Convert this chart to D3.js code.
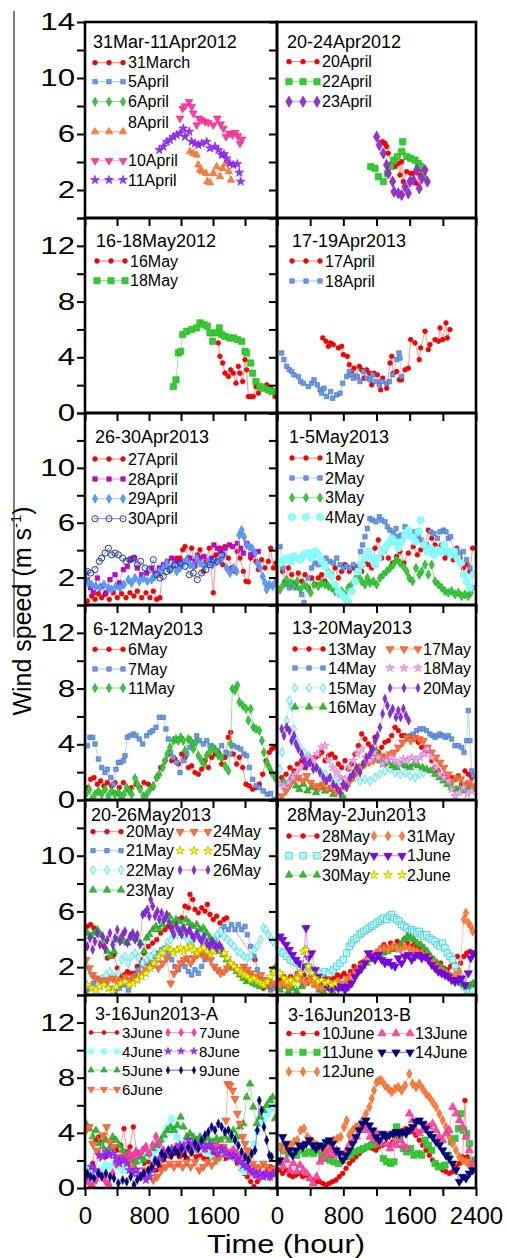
<!DOCTYPE html>
<html>
<head>
<meta charset="utf-8">
<script src="https://cdn.jsdelivr.net/npm/d3@7"></script>
<style>
body { margin: 0; background: #fff; }
svg text { font-family: "Liberation Sans", Arial, sans-serif; fill: #000; }
</style>
</head>
<body>
<svg id="chart" width="507" height="1258"></svg>
<script>
// ---- ticks ----
var xTicks = [0, 400, 800, 1200, 1600, 2000, 2400];
var yTicks = [0, 2, 4, 6, 8, 10, 12, 14];
var xLabelsLeft = [0, 800, 1600];
var xLabelsRight = [0, 800, 1600, 2400];
var yLabelsByRow = [[14, 10, 6, 2], [12, 8, 4, 0], [10, 6, 2], [12, 8, 4, 0], [10, 6, 2], [12, 8, 4, 0]];

// ---- data: [time (hhmm), wind speed] ----
// 31Mar-11Apr2012
var p1_31March = [];
var p1_5April = [];
var p1_6April = [];
var p1_8April = [[1312,4.74],[1354,4.62],[1396,4.5],[1417,3.79],[1437,3.43],[1467,3.31],[1512,3.19],[1529,2.6],[1562,2.52],[1604,3.19],[1646,3.67],[1687,2.95],[1721,3.55],[1758,3.9],[1796,3.31],[1825,2.71]];
var p1_10April = [[1187,7.12],[1221,7.83],[1250,8.0],[1300,8.31],[1333,7.95],[1354,7.48],[1396,6.64],[1425,7.12],[1458,7.0],[1500,6.88],[1542,6.81],[1604,6.64],[1654,7.12],[1696,6.71],[1729,6.4],[1762,5.81],[1804,6.05],[1842,5.93],[1879,6.1],[1912,5.86],[1937,5.33],[1962,5.62]];
var p1_11April = [[929,4.86],[979,5.1],[1021,5.45],[1062,5.57],[1104,5.81],[1146,5.93],[1187,6.05],[1229,6.4],[1250,5.81],[1304,6.17],[1333,5.45],[1375,5.33],[1417,5.21],[1458,5.33],[1521,5.45],[1562,4.98],[1625,5.1],[1667,4.86],[1708,4.5],[1737,4.57],[1771,4.26],[1812,3.9],[1854,3.79],[1904,3.86],[1929,3.24],[1946,2.6]];
// 20-24Apr2012
var p2_20April = [[1274,5.45],[1302,5.33],[1322,5.1],[1342,4.62],[1383,3.9],[1423,3.67],[1463,3.9],[1483,3.07],[1503,4.02],[1523,2.6],[1564,3.31],[1612,3.19],[1644,3.19],[1684,2.48],[1725,3.07],[1745,3.43]];
var p2_22April = [[1130,3.67],[1182,3.55],[1222,2.95],[1282,2.6],[1331,3.19],[1371,3.67],[1411,4.14],[1451,4.38],[1503,4.74],[1515,5.45],[1564,4.38],[1612,4.26],[1664,4.14],[1704,3.9],[1733,3.67],[1765,2.95]];
var p2_23April = [[1202,5.81],[1234,5.21],[1282,4.62],[1322,3.79],[1342,3.19],[1395,2.6],[1411,1.88],[1463,1.76],[1503,1.64],[1544,2.24],[1584,1.76],[1604,2.6],[1644,2.71],[1684,3.43],[1716,2.12],[1745,2.83],[1785,3.43],[1813,2.6]];
// 16-18May2012
var p3_16May = [[1667,5.03],[1687,4.07],[1721,3.59],[1750,2.86],[1792,2.62],[1821,3.1],[1854,2.86],[1887,2.14],[1917,3.35],[1937,2.86],[1971,2.26],[2000,3.83],[2021,3.1],[2042,1.18],[2071,1.18],[2104,1.18],[2137,1.9],[2167,1.42],[2208,1.78],[2271,2.02],[2321,1.78],[2375,1.18]];
var p3_18May = [[1104,1.9],[1137,2.38],[1167,4.31],[1196,4.43],[1221,5.63],[1271,5.87],[1333,5.99],[1396,6.11],[1437,6.47],[1487,6.35],[1529,6.23],[1562,5.75],[1596,5.15],[1637,5.75],[1679,6.11],[1708,5.63],[1750,5.51],[1804,5.39],[1854,5.39],[1904,5.27],[1958,5.15],[2000,4.43],[2021,4.31],[2071,3.59],[2096,2.86],[2137,2.26],[2187,1.9],[2229,1.78],[2292,1.66],[2333,1.54],[2396,1.54]];
// 17-19Apr2013
var p4_17April = [[551,5.39],[591,5.15],[619,4.79],[647,5.03],[679,4.91],[740,4.67],[780,4.79],[800,4.19],[848,4.07],[872,3.47],[900,2.86],[929,3.22],[961,2.62],[993,3.35],[1021,3.1],[1049,2.5],[1081,3.1],[1114,2.86],[1142,2.02],[1170,2.86],[1210,2.74],[1250,1.66],[1274,2.5],[1323,1.78],[1363,3.59],[1383,4.07],[1403,2.86],[1443,2.98],[1475,2.38],[1503,2.38],[1544,3.1],[1584,3.22],[1612,5.27],[1664,5.03],[1716,3.83],[1733,4.67],[1785,5.87],[1825,4.55],[1845,4.91],[1906,5.27],[1946,5.15],[1966,6.11],[1998,5.27],[2038,6.47],[2054,5.39],[2086,5.99]];
var p4_18April = [[56,4.31],[84,3.83],[117,3.35],[149,3.1],[177,2.98],[205,2.74],[257,2.62],[285,2.26],[318,2.14],[378,1.9],[418,2.14],[446,2.38],[486,2.02],[519,1.66],[539,1.42],[567,1.78],[599,1.18],[647,1.54],[672,1.06],[720,1.3],[760,1.42],[792,2.14],[840,2.62],[872,2.98],[900,2.74],[921,2.5],[969,2.62],[1001,2.26],[1041,2.98],[1081,2.5],[1122,2.38],[1154,2.74],[1194,2.26],[1234,2.02],[1262,2.26],[1323,2.14],[1355,2.26],[1395,2.74],[1443,3.83],[1471,4.31],[1483,3.95],[1503,2.62]];
// 26-30Apr2013
var p5_27April = [[29,0.29],[83,0.65],[125,0.41],[167,0.82],[208,0.53],[250,0.77],[304,0.41],[354,0.89],[404,0.53],[458,0.82],[512,0.53],[562,0.89],[612,0.65],[654,1.01],[708,0.53],[762,0.89],[812,0.53],[854,1.01],[896,0.41],[937,0.53],[971,2.7],[1021,3.06],[1062,2.7],[1104,2.82],[1146,3.42],[1187,3.42],[1221,4.02],[1250,4.26],[1292,3.42],[1333,4.14],[1375,2.82],[1404,3.66],[1437,4.02],[1479,2.45],[1512,3.18],[1554,4.14],[1604,0.89],[1637,3.66],[1687,4.14],[1721,2.94],[1750,4.26],[1792,3.42],[1833,2.7],[1875,2.45],[1904,3.9],[1937,3.42],[1979,2.45],[2012,1.73],[2042,1.68],[2071,3.42],[2104,3.66],[2137,3.18],[2167,2.58],[2208,3.3],[2250,2.7],[2292,3.18],[2321,4.14],[2354,2.7],[2387,3.06]];
var p5_28April = [[29,1.85],[71,1.25],[104,0.89],[154,1.97],[208,1.37],[262,0.89],[312,1.85],[375,2.21],[429,1.61],[479,2.58],[529,2.82],[571,3.3],[612,3.42],[654,2.7],[708,2.21],[771,2.33],[833,2.7],[875,2.33],[929,2.7],[979,2.94],[1029,3.18],[1083,3.42],[1125,3.18],[1187,3.06],[1250,3.18],[1312,3.42],[1375,3.18],[1437,3.42],[1487,3.54],[1542,3.06],[1583,3.42],[1612,4.38],[1654,4.14],[1696,3.9],[1750,4.14],[1804,4.38],[1846,4.26],[1904,4.5],[1946,4.14],[1979,3.78],[2021,4.5],[2071,3.66],[2112,3.78],[2167,3.9]];
var p5_29April = [[12,2.33],[42,1.61],[83,1.49],[137,1.37],[187,1.25],[237,1.49],[292,1.25],[333,1.13],[387,1.37],[437,1.25],[487,1.49],[542,1.85],[583,1.61],[625,1.97],[679,1.73],[729,1.97],[779,1.73],[833,1.85],[875,2.09],[929,2.45],[979,2.7],[1021,3.06],[1062,2.58],[1104,2.94],[1146,2.45],[1187,2.7],[1229,3.06],[1271,3.3],[1312,2.94],[1354,2.82],[1396,3.42],[1437,3.06],[1487,2.82],[1542,3.18],[1596,2.94],[1646,3.18],[1696,3.3],[1737,3.66],[1771,2.7],[1812,2.33],[1854,2.7],[1896,2.45],[1929,5.1],[1958,5.46],[1987,4.98],[2021,4.38],[2054,4.26],[2087,4.14],[2125,3.78],[2154,3.06],[2187,2.7],[2221,2.09],[2250,1.61],[2271,1.13],[2304,1.49],[2346,1.37],[2387,1.73]];
var p5_30April = [[29,2.45],[71,2.33],[125,2.58],[179,3.18],[208,3.42],[250,3.78],[292,4.14],[333,3.66],[375,3.78],[417,3.66],[471,3.42],[512,3.18],[562,3.3],[612,3.42],[654,2.94],[696,3.18],[750,2.7],[804,2.58],[854,3.3],[896,2.21],[937,1.97],[979,2.09],[1021,2.45],[1062,2.58],[1125,2.94],[1187,3.06],[1250,2.82],[1304,2.21],[1354,2.33],[1404,1.85],[1458,2.33],[1512,2.58],[1562,2.94],[1604,3.3],[1654,3.18],[1708,3.66]];
// 1-5May2013
var p6_1May = [[28,3.06],[68,2.45],[96,1.73],[137,2.7],[177,2.21],[217,1.49],[257,2.33],[297,1.73],[338,2.21],[378,1.25],[418,1.97],[458,1.49],[498,1.97],[539,2.21],[579,1.73],[619,2.45],[659,2.21],[700,2.7],[740,1.97],[780,2.45],[820,2.94],[872,2.45],[921,2.7],[981,2.82],[1021,2.45],[1061,3.18],[1101,2.94],[1142,2.7],[1182,4.14],[1222,4.74],[1262,3.42],[1302,4.02],[1343,3.42],[1395,3.06],[1443,3.54],[1483,3.9],[1532,3.06],[1584,3.78],[1644,4.26],[1692,3.66],[1733,4.02],[1785,4.26],[1825,5.46],[1865,4.86],[1906,4.38],[1946,4.14],[1986,4.38],[2026,3.42],[2066,3.66],[2126,3.3],[2167,4.14],[2207,3.42],[2247,2.7],[2295,2.94],[2327,2.45],[2360,4.14]];
var p6_2May = [[36,4.26],[68,2.7],[109,1.49],[149,1.25],[197,1.61],[245,1.25],[297,0.77],[326,0.17],[378,1.97],[418,2.7],[458,3.06],[498,2.94],[551,3.18],[591,3.42],[639,3.18],[679,3.06],[720,3.42],[760,2.94],[800,2.7],[840,2.82],[880,2.7],[921,2.94],[961,2.58],[1009,3.9],[1033,4.38],[1061,4.98],[1089,5.58],[1121,6.31],[1154,6.19],[1194,6.07],[1234,6.43],[1262,6.19],[1302,6.07],[1331,5.7],[1363,5.46],[1403,5.22],[1435,5.58],[1463,4.98],[1503,5.1],[1544,5.7],[1584,5.1],[1624,4.98],[1664,5.34],[1704,4.98],[1745,4.74],[1773,4.38],[1805,4.38],[1853,5.34],[1893,5.22],[1934,4.86],[1966,5.34],[2006,5.46],[2038,5.34],[2066,4.86],[2094,4.98],[2126,3.9],[2167,4.02],[2207,3.78],[2247,3.9],[2287,3.3],[2327,2.7],[2368,1.25]];
var p6_3May = [[36,1.13],[76,1.49],[117,1.85],[165,1.61],[205,1.37],[245,1.73],[285,1.13],[326,1.49],[366,1.25],[406,0.89],[446,1.49],[498,1.37],[539,1.61],[579,1.49],[619,1.37],[659,1.25],[700,1.01],[740,0.89],[780,1.01],[820,0.77],[860,1.25],[900,1.49],[941,1.85],[981,2.09],[1021,1.73],[1061,1.49],[1089,1.97],[1121,1.61],[1162,1.73],[1202,1.49],[1242,1.97],[1282,2.21],[1323,2.45],[1363,2.7],[1403,2.94],[1443,3.3],[1483,3.06],[1524,2.82],[1564,2.45],[1596,1.97],[1636,1.73],[1676,2.7],[1716,2.21],[1745,2.45],[1785,2.94],[1825,2.21],[1865,2.94],[1906,1.73],[1946,1.49],[1986,1.25],[2026,1.01],[2066,0.89],[2106,1.01],[2147,0.77],[2187,0.89],[2227,0.65],[2267,0.77],[2307,0.65],[2336,0.89]];
var p6_4May = [[36,3.06],[84,3.3],[125,3.42],[165,3.18],[205,3.54],[245,3.42],[285,3.3],[326,3.66],[378,3.78],[418,3.42],[458,3.9],[498,3.66],[539,3.18],[579,2.82],[619,2.33],[659,2.09],[700,1.49],[740,1.01],[780,0.77],[820,0.53],[860,0.17],[900,1.01],[941,1.73],[981,2.45],[1021,2.94],[1061,3.42],[1101,3.9],[1142,3.42],[1182,2.94],[1222,3.42],[1262,3.9],[1302,4.14],[1343,4.5],[1383,4.86],[1423,4.62],[1463,4.14],[1503,4.62],[1544,5.1],[1584,5.46],[1624,4.98],[1664,4.62],[1704,5.34],[1733,6.19],[1773,4.38],[1813,3.9],[1853,4.14],[1893,3.66],[1934,4.02],[1974,3.9],[2014,4.38],[2054,3.9],[2094,3.66],[2135,3.9],[2175,3.42],[2215,3.06],[2255,2.21],[2287,1.73],[2327,1.25],[2368,2.21]];
// 6-12May2013
var p7_6May = [[29,0.89],[71,1.49],[112,1.61],[154,1.13],[196,1.37],[237,1.01],[279,1.25],[333,1.01],[375,1.25],[429,0.89],[479,1.25],[529,0.77],[583,0.89],[637,1.13],[687,0.89],[737,1.25],[792,1.13],[846,0.89],[896,1.61],[946,2.33],[1000,2.82],[1042,3.3],[1083,2.82],[1125,2.94],[1167,2.58],[1208,3.3],[1250,3.06],[1292,2.33],[1333,2.45],[1375,1.97],[1417,1.85],[1458,2.21],[1500,2.82],[1542,2.33],[1583,3.06],[1625,3.3],[1667,3.42],[1708,2.58],[1750,3.06],[1792,4.5],[1821,4.86],[1854,3.3],[1896,2.58],[1929,3.06],[1971,2.33],[2012,1.13],[2054,1.01],[2096,0.77],[2137,0.89],[2179,1.13],[2221,1.85],[2262,2.82],[2304,3.42],[2333,3.66],[2362,3.78]];
var p7_7May = [[29,3.9],[62,4.5],[96,4.5],[125,4.02],[167,2.94],[208,2.33],[250,1.97],[279,2.21],[321,1.61],[354,1.13],[387,2.21],[417,2.7],[446,2.7],[479,2.82],[500,3.18],[529,4.5],[562,4.62],[604,4.74],[637,4.62],[679,4.38],[721,4.02],[771,4.62],[812,4.86],[846,4.98],[887,5.22],[929,5.94],[979,5.94],[1012,5.1],[1042,4.38],[1071,3.42],[1104,3.06],[1146,2.7],[1187,1.97],[1229,2.82],[1271,3.3],[1312,3.78],[1346,4.14],[1396,4.62],[1429,4.26],[1479,4.02],[1521,4.26],[1562,3.9],[1604,3.78],[1654,3.54],[1708,3.9],[1762,3.42],[1812,3.3],[1854,3.9],[1904,3.78],[1946,3.66],[1987,3.3],[2021,3.18],[2054,2.33],[2096,1.49],[2137,1.01],[2179,0.89],[2229,0.65],[2279,0.41],[2321,0.46],[2362,0.05]];
var p7_11May = [[12,0.41],[54,0.77],[83,0.05],[125,0.41],[167,0.65],[208,0.41],[250,0.77],[292,0.29],[333,0.65],[375,0.41],[417,0.53],[446,0.29],[487,0.41],[521,0.89],[554,0.65],[583,0.41],[625,1.56],[654,1.13],[687,0.77],[729,0.29],[771,0.41],[812,0.77],[854,1.01],[896,1.61],[929,1.85],[971,2.33],[1000,2.82],[1029,3.3],[1062,3.78],[1104,4.26],[1137,4.38],[1167,4.26],[1196,4.5],[1229,4.26],[1250,3.54],[1292,4.38],[1321,4.26],[1354,3.66],[1387,4.14],[1417,3.18],[1458,2.82],[1487,2.58],[1521,3.18],[1554,3.42],[1596,3.78],[1637,3.54],[1667,3.18],[1708,3.06],[1750,2.45],[1792,2.09],[1821,4.02],[1842,7.99],[1875,7.87],[1904,8.23],[1929,7.03],[1971,6.79],[2012,6.55],[2042,5.7],[2071,6.55],[2104,5.22],[2137,5.1],[2179,4.98],[2212,4.26],[2237,3.42],[2271,2.7],[2304,2.33],[2333,1.97],[2375,1.61]];
// 13-20May2013
var p8_13May = [[56,1.61],[109,1.85],[157,2.33],[205,2.09],[245,2.58],[297,2.82],[338,2.33],[378,2.94],[418,2.58],[458,3.06],[498,3.18],[539,3.42],[579,2.82],[619,3.18],[659,3.3],[700,3.06],[740,2.58],[780,2.33],[820,2.82],[860,2.21],[900,2.58],[941,3.3],[981,3.9],[1021,4.74],[1061,4.38],[1101,4.02],[1142,3.78],[1182,4.5],[1222,3.42],[1262,3.78],[1302,4.14],[1343,4.26],[1383,4.62],[1423,5.22],[1463,4.98],[1503,4.62],[1544,4.62],[1584,4.5],[1624,4.62],[1664,4.38],[1704,4.14],[1745,3.78],[1785,3.42],[1825,3.54],[1865,2.82],[1906,2.33],[1946,2.09],[1986,1.73],[2026,1.61],[2066,1.37],[2106,1.61],[2147,1.49],[2187,1.73],[2227,1.13],[2267,2.09],[2307,1.85],[2348,1.61]];
var p8_14May = [[1612,4.62],[1644,4.74],[1684,4.98],[1725,5.1],[1765,5.1],[1805,4.98],[1845,4.74],[1877,4.62],[1906,4.5],[1934,4.62],[1966,4.74],[1998,4.62],[2030,4.5],[2066,4.62],[2106,4.38],[2147,3.9],[2187,3.9],[2227,3.78],[2255,3.42],[2287,4.26],[2307,6.43],[2327,4.26],[2348,2.09],[2368,1.73]];
var p8_15May = [[36,2.21],[60,3.42],[84,4.98],[117,5.7],[149,7.15],[177,6.67],[205,5.1],[237,4.26],[277,3.78],[326,3.42],[378,3.18],[418,2.94],[470,2.33],[519,2.09],[579,1.85],[639,1.61],[700,1.37],[760,1.37],[820,1.25],[880,1.37],[941,1.61],[1001,1.37],[1061,1.49],[1122,1.37],[1182,1.61],[1242,1.85],[1302,2.09],[1363,2.21],[1423,1.97],[1483,1.85],[1544,1.97],[1604,1.73],[1664,1.61],[1716,1.85],[1765,1.97]];
var p8_16May = [[76,1.37],[125,1.13],[177,1.61],[229,1.01],[269,0.77],[318,1.13],[366,0.65],[418,0.89],[470,0.53],[519,0.89],[579,0.65],[631,0.77],[679,0.41],[740,0.65],[792,0.29],[840,1.13],[888,1.61],[941,2.09],[993,2.33],[1041,2.58],[1089,2.82],[1142,3.3],[1194,3.54],[1242,2.82],[1290,2.58],[1343,2.7],[1395,2.45],[1443,2.33],[1503,2.58],[1556,2.45],[1604,2.33],[1652,2.58],[1704,2.45],[1757,2.33],[1805,2.21],[1853,2.09],[1906,1.85],[1958,1.61],[2006,1.37],[2054,1.13],[2106,0.89],[2159,0.77],[2207,0.89],[2255,0.65],[2307,0.89],[2360,0.77]];
var p8_17May = [[56,0.29],[109,0.65],[157,1.13],[205,1.49],[257,1.61],[310,1.37],[358,1.73],[406,1.25],[458,1.01],[511,0.89],[559,1.13],[607,0.77],[659,0.89],[712,0.53],[760,0.77],[808,1.01],[860,1.25],[913,1.61],[961,1.97],[1009,2.33],[1061,2.58],[1114,2.7],[1162,2.82],[1210,3.06],[1262,3.18],[1315,3.06],[1363,3.3],[1411,3.42],[1463,3.78],[1516,4.14],[1564,4.5],[1612,4.26],[1664,4.5],[1716,4.38],[1765,4.26],[1813,3.78],[1865,3.42],[1917,3.06],[1966,2.7],[2014,2.33],[2066,1.85],[2118,1.37],[2167,1.61],[2215,1.49],[2267,1.13],[2319,1.25],[2368,1.01]];
var p8_18May = [[36,1.13],[84,1.01],[137,1.25],[189,1.61],[237,1.97],[285,2.33],[338,2.82],[390,3.06],[438,2.82],[486,3.3],[539,3.78],[579,3.9],[619,2.82],[671,2.33],[720,1.97],[768,1.61],[820,1.49],[872,2.33],[921,2.82],[969,3.3],[1021,3.66],[1073,3.06],[1122,2.82],[1170,3.42],[1222,3.06],[1274,2.58],[1323,2.82],[1371,3.06],[1423,2.82],[1475,2.58],[1524,2.94],[1572,2.82],[1624,3.06],[1676,2.82],[1725,3.06],[1773,3.3],[1813,3.66],[1865,3.06],[1917,2.33],[1966,1.85],[2014,1.61],[2066,1.37],[2106,0.77],[2147,0.29],[2199,0.53],[2247,0.89],[2295,0.41],[2348,0.65]];
var p8_20May = [[56,5.1],[84,4.62],[117,5.22],[149,4.98],[177,4.26],[205,4.62],[229,4.02],[257,3.66],[297,3.3],[326,2.82],[358,2.45],[398,2.7],[438,2.21],[478,2.33],[519,1.97],[559,1.61],[599,1.37],[639,1.61],[679,1.13],[720,0.89],[760,0.53],[800,1.13],[840,0.89],[880,1.61],[921,1.85],[961,2.33],[1001,1.97],[1041,2.58],[1081,3.06],[1122,3.3],[1154,3.66],[1182,4.26],[1210,4.62],[1242,5.22],[1274,6.19],[1302,7.27],[1331,6.79],[1363,6.19],[1395,6.55],[1435,5.94],[1463,6.43],[1491,5.94],[1524,6.55],[1556,6.07],[1588,5.7]];
// 20-26May2013
var p9_20May = [[29,4.93],[71,5.05],[112,4.81],[154,4.45],[196,4.33],[237,3.49],[279,2.65],[321,2.77],[362,2.89],[404,1.93],[446,1.32],[487,1.44],[529,1.68],[571,1.56],[612,1.56],[654,2.05],[696,2.53],[737,3.01],[792,3.49],[846,3.73],[896,3.97],[946,4.45],[1000,4.69],[1042,4.93],[1083,4.81],[1125,5.17],[1167,5.42],[1208,5.54],[1250,6.38],[1292,6.26],[1312,7.22],[1346,6.86],[1375,6.14],[1417,5.9],[1458,6.26],[1500,6.02],[1529,6.5],[1562,5.78],[1604,5.42],[1646,5.66],[1687,5.17],[1737,5.42],[1771,5.54],[2125,2.53],[2229,0.48]];
var p9_21May = [[12,0.24],[62,0.48],[104,0.84],[154,1.08],[208,0.96],[262,0.84],[312,0.48],[375,0.24],[429,0.48],[487,0.72],[542,0.36],[583,1.08],[625,1.44],[667,1.81],[708,2.17],[750,2.29],[792,2.41],[833,2.05],[875,2.77],[917,3.01],[958,3.25],[1000,3.37],[1042,3.01],[1083,2.53],[1125,2.05],[1167,1.81],[1208,2.29],[1250,2.05],[1292,1.68],[1333,1.44],[1375,1.81],[1417,1.56],[1458,2.05],[1500,2.53],[1542,3.01],[1583,3.49],[1625,3.97],[1667,4.33],[1708,4.69],[1737,4.93],[1792,4.69],[1833,5.05],[1875,4.69],[1917,5.05],[1958,4.69],[2000,4.93],[2029,4.33],[2071,3.49],[2112,2.77],[2154,1.81],[2196,1.32],[2237,1.08],[2279,0.72],[2321,0.36],[2362,0.48]];
var p9_22May = [[29,2.05],[71,1.56],[112,1.32],[154,1.08],[208,1.2],[262,1.44],[312,1.68],[362,1.32],[417,1.56],[458,2.53],[500,2.77],[542,2.29],[583,2.77],[625,3.01],[667,2.65],[721,2.29],[771,2.53],[821,2.77],[862,3.01],[904,2.53],[946,3.01],[987,3.25],[1029,3.73],[1071,3.97],[1112,4.45],[1154,4.33],[1196,4.69],[1237,4.33],[1279,3.97],[1321,3.61],[1362,3.97],[1404,4.45],[1446,4.33],[1487,3.97],[1529,4.21],[1571,3.73],[1612,3.97],[1654,4.33],[1696,4.57],[1737,4.21],[1779,3.97],[1821,3.73],[1862,3.49],[1904,3.13],[1946,3.01],[1987,2.77],[2029,2.65],[2071,2.77],[2112,3.25],[2154,3.49],[2196,3.97],[2229,4.81],[2262,4.69],[2292,4.33],[2321,4.09],[2354,3.85],[2387,3.61]];
var p9_23May = [[29,4.45],[71,4.21],[112,4.45],[154,4.69],[196,4.33],[237,3.85],[279,3.13],[321,2.77],[362,3.13],[404,3.97],[446,4.09],[487,3.85],[529,3.73],[571,4.09],[612,4.21],[654,3.97],[696,3.73],[737,3.13],[771,4.09],[804,4.33],[846,4.69],[887,4.93],[929,4.69],[971,5.05],[1012,5.42],[1054,5.66],[1096,5.17],[1137,5.42],[1179,5.29],[1221,4.81],[1262,5.42],[1304,5.17],[1346,4.93],[1396,5.05],[1437,4.69],[1479,4.81],[1521,4.45],[1562,4.09],[1604,3.85],[1646,3.49],[1687,3.13],[1729,2.89],[1771,2.53],[1812,2.29],[1854,1.93],[1896,1.68],[1937,1.44],[1979,1.2],[2021,0.96],[2062,1.08],[2104,0.84],[2146,0.72],[2187,0.6],[2229,0.84],[2271,0.6],[2312,0.96],[2354,1.81],[2387,2.05]];
var p9_24May = [[12,2.53],[54,1.93],[96,1.44],[137,1.2],[187,1.08],[237,0.96],[292,1.08],[346,1.2],[396,0.96],[446,1.08],[500,1.32],[554,1.08],[604,1.32],[654,1.2],[708,1.56],[762,1.81],[812,2.05],[862,2.29],[917,1.93],[971,2.29],[1021,2.65],[1071,0.84],[1112,1.56],[1154,1.93],[1196,2.29],[1237,2.53],[1279,2.65],[1321,2.29],[1362,2.65],[1404,2.89],[1446,3.01],[1487,2.77],[1529,2.89],[1571,2.53],[1612,2.05],[1654,1.81],[1696,1.56],[1737,1.68],[1779,1.93],[1821,2.17],[1862,2.05],[1904,1.81],[1946,1.56],[1987,2.05],[2029,1.81],[2071,1.56],[2112,1.32],[2154,1.2],[2196,1.44],[2237,1.08],[2279,0.84],[2321,0.72],[2362,0.84]];
var p9_25May = [[29,0.72],[83,0.48],[137,0.36],[187,0.6],[237,0.72],[292,0.48],[346,0.24],[396,0.6],[446,0.84],[500,0.96],[554,0.72],[604,0.84],[654,1.08],[708,1.32],[762,1.56],[812,1.93],[862,2.29],[917,2.77],[971,3.01],[1021,3.37],[1071,3.25],[1112,3.01],[1154,3.25],[1196,3.37],[1237,3.13],[1279,3.37],[1321,3.49],[1362,3.25],[1404,3.01],[1446,3.25],[1487,3.37],[1529,3.13],[1571,2.89],[1612,3.13],[1654,3.37],[1696,3.25],[1737,3.01],[1779,2.65],[1821,2.29],[1862,2.05],[1904,1.81],[1946,1.56],[1987,1.44],[2029,1.32],[2071,1.08],[2112,1.2],[2154,0.96],[2196,0.84],[2237,0.72],[2279,0.96],[2321,1.32],[2362,1.68]];
var p9_26May = [[29,3.49],[62,4.09],[96,3.25],[125,3.85],[154,4.45],[187,3.61],[221,4.21],[250,3.37],[279,3.97],[312,4.45],[346,3.61],[375,4.09],[404,4.69],[437,3.85],[471,4.33],[500,4.57],[529,3.73],[562,4.21],[596,4.45],[625,3.97],[654,4.33],[687,3.61],[721,5.78],[750,5.9],[779,6.14],[804,5.66],[821,6.86],[846,6.38],[875,5.66],[904,6.02],[929,5.42],[958,5.9],[987,5.42],[1021,5.78],[1054,5.17],[1083,4.69],[1112,4.33],[1146,4.93],[1179,4.57],[1208,4.33],[1237,4.81],[1271,4.45],[1304,4.69],[1333,4.33],[1362,4.09],[1396,4.45],[1429,4.09],[1458,3.85],[1487,4.21],[1521,3.73],[1554,3.49],[1583,3.85],[1612,3.61],[1646,3.37],[1679,3.61],[1708,3.37]];
// 28May-2Jun2013
var p10_28May = [[36,1.08],[84,1.32],[125,0.96],[165,1.32],[205,1.08],[245,1.56],[285,1.2],[326,1.44],[366,1.08],[406,1.32],[446,0.96],[486,1.2],[527,0.84],[567,1.08],[607,1.32],[647,1.08],[687,1.2],[728,1.44],[768,1.32],[808,1.56],[848,1.32],[888,1.68],[929,2.05],[969,1.81],[1009,2.29],[1049,2.41],[1089,2.65],[1130,3.01],[1170,2.77],[1210,3.13],[1250,3.37],[1290,3.61],[1331,3.37],[1371,3.73],[1411,3.49],[1451,3.85],[1491,3.61],[1532,3.97],[1572,3.73],[1612,3.49],[1652,3.61],[1692,3.37],[1733,3.25],[1773,3.13],[1813,2.89],[1853,2.53],[1893,2.29],[1934,2.05],[1974,2.29],[2014,1.93],[2054,1.81],[2094,2.05],[2135,2.29],[2175,2.77],[2215,2.29],[2255,2.77],[2287,3.01],[2327,3.13],[2360,3.01]];
var p10_29May = [[36,3.13],[76,3.01],[117,2.77],[157,2.53],[197,2.41],[237,2.29],[277,2.05],[326,1.93],[378,2.05],[430,1.81],[478,1.68],[527,1.56],[579,1.68],[631,1.56],[679,1.81],[720,2.05],[760,2.29],[800,2.53],[840,3.01],[872,3.49],[900,3.73],[929,3.97],[961,4.09],[993,4.33],[1021,4.45],[1049,4.57],[1081,4.69],[1114,4.81],[1142,4.93],[1170,5.05],[1202,5.17],[1234,5.29],[1262,5.42],[1290,5.54],[1323,5.42],[1355,5.66],[1383,5.78],[1411,5.54],[1443,5.42],[1475,5.29],[1503,5.05],[1532,4.93],[1564,4.81],[1596,4.57],[1624,4.69],[1652,4.57],[1684,4.45],[1716,4.57],[1745,4.33],[1773,4.21],[1805,4.33],[1837,4.09],[1869,3.97],[1906,3.85],[1934,3.61],[1966,3.49],[1998,3.73],[2026,3.37],[2054,3.01],[2086,2.77],[2118,2.53],[2147,2.05],[2175,1.68],[2207,1.32],[2239,0.96],[2267,0.6],[2295,0.36],[2327,0.24],[2360,0.36]];
var p10_30May = [[36,0.36],[84,0.6],[137,0.24],[189,0.48],[237,0.24],[297,0.6],[350,0.84],[406,1.08],[458,0.72],[511,0.36],[559,0.24],[619,0.48],[671,0.24],[728,0.48],[780,0.6],[832,0.84],[880,1.08],[929,1.32],[981,1.68],[1033,2.05],[1081,2.29],[1130,2.53],[1182,2.77],[1234,2.89],[1282,3.01],[1331,3.13],[1383,3.25],[1435,3.37],[1483,3.61],[1532,3.97],[1572,4.21],[1612,4.09],[1652,3.97],[1692,3.73],[1733,3.61],[1773,3.37],[1813,3.13],[1853,2.77],[1893,2.53],[1934,2.29],[1974,2.05],[2014,1.81],[2054,1.56],[2094,1.32],[2135,1.2],[2175,1.08],[2215,0.84],[2255,0.72],[2295,0.6],[2336,0.72],[2368,0.84]];
var p10_31May = [[36,0.72],[84,0.84],[137,0.6],[189,0.96],[237,1.32],[285,1.08],[338,0.84],[390,1.08],[438,0.84],[486,0.6],[539,0.48],[591,0.72],[639,0.48],[687,0.72],[740,0.96],[792,0.72],[840,1.08],[888,1.32],[941,1.68],[993,1.93],[1041,2.29],[1089,2.53],[1142,2.89],[1194,3.01],[1242,3.25],[1290,3.37],[1343,3.25],[1395,3.49],[1443,3.37],[1491,3.25],[1544,3.49],[1596,3.37],[1644,3.25],[1692,3.13],[1745,3.01],[1797,2.77],[1845,2.53],[1893,2.29],[1946,1.93],[1998,1.68],[2046,1.56],[2094,1.32],[2147,1.44],[2199,1.68],[2255,5.42],[2279,5.9],[2307,5.17],[2336,4.93],[2360,4.57]];
var p10_1June = [[36,4.21],[68,3.97],[109,3.61],[149,3.25],[189,2.89],[229,2.53],[269,2.29],[310,2.05],[350,4.81],[378,2.65],[418,3.01],[458,1.81],[498,1.32],[539,1.08],[579,0.84],[619,0.6],[659,0.48],[700,0.72],[740,0.48],[780,0.6],[820,0.36],[860,0.6],[900,0.84],[941,1.32],[981,1.68],[1021,1.93],[1061,2.29],[1101,3.01],[1142,2.77],[1182,2.53],[1222,2.89],[1262,2.53],[1302,2.29],[1343,2.41],[1383,2.17],[1423,2.05],[1463,2.65],[1503,2.29],[1544,2.77],[1584,2.89],[1624,2.53],[1664,2.77],[1704,2.89],[1745,2.65],[1785,2.77],[1825,2.53],[1865,2.17],[1906,1.93],[1946,1.68],[1986,1.56],[2026,1.44],[2066,1.32],[2106,1.08],[2147,0.96],[2187,1.08],[2227,1.2],[2267,0.72],[2307,1.56],[2336,2.65],[2360,3.01]];
var p10_2June = [[36,1.56],[84,1.2],[125,0.96],[165,1.08],[205,0.84],[245,1.2],[285,1.56],[318,3.13],[350,3.25],[378,2.05],[418,1.56],[458,1.2],[498,0.96],[539,1.08],[579,0.84],[619,0.96],[659,0.72],[700,0.84]];
// 3-16Jun2013-A
var p11_3June = [[12,0.82],[54,1.3],[96,1.78],[137,3.47],[167,3.71],[208,3.35],[250,2.26],[292,2.5],[346,3.47],[396,2.74],[446,3.1],[487,4.31],[521,2.62],[562,2.98],[604,4.43],[646,2.62],[687,2.26],[737,1.78],[792,1.9],[846,1.54],[896,1.3],[937,1.54],[979,2.02],[1021,2.38],[1071,2.26],[1125,2.5],[1179,2.26],[1229,2.38],[1279,2.14],[1333,2.5],[1387,2.26],[1437,2.38],[1487,2.14],[1542,2.26],[1596,2.5],[1646,2.26],[1696,2.38],[1750,2.14],[1804,2.5],[1854,2.26],[1904,1.78],[1946,1.42],[1987,1.06],[2029,0.82],[2071,0.46],[2112,0.1],[2154,0.46],[2196,0.82],[2237,1.06],[2279,1.3],[2321,1.54],[2362,1.42]];
var p11_4June = [[12,1.54],[54,1.06],[104,1.42],[154,1.18],[208,1.42],[262,1.66],[312,1.54],[362,1.78],[417,1.54],[471,1.3],[521,1.78],[571,1.9],[625,2.14],[679,1.9],[729,2.26],[779,2.5],[833,2.26],[887,2.74],[937,2.98],[979,3.71],[1012,4.19],[1042,4.43],[1083,5.03],[1112,4.19],[1146,3.71],[1187,3.22],[1229,2.86],[1271,3.22],[1312,2.98],[1354,3.1],[1396,2.74],[1437,2.98],[1487,2.74],[1542,2.5],[1596,2.14],[1646,1.9],[1696,2.26],[1750,2.5],[1804,2.74],[1854,2.86],[1904,2.26],[1946,1.54],[1987,1.18],[2029,1.54],[2071,2.26],[2112,3.22],[2154,4.07],[2196,4.67],[2237,5.03],[2279,5.39],[2321,5.75],[2362,5.99]];
var p11_5June = [[12,4.67],[54,4.31],[96,3.71],[137,4.19],[179,3.22],[221,2.98],[262,3.47],[304,2.86],[346,3.71],[387,3.47],[429,3.1],[471,2.74],[521,2.5],[554,2.26],[596,2.02],[637,1.9],[687,2.26],[737,2.02],[792,2.5],[846,2.86],[896,3.1],[946,3.47],[987,3.83],[1029,4.19],[1071,4.43],[1112,4.19],[1154,4.55],[1196,5.15],[1229,4.43],[1271,3.71],[1312,3.95],[1354,3.71],[1396,3.47],[1437,3.71],[1487,3.35],[1542,3.59],[1596,3.35],[1646,3.59],[1696,3.47],[1750,3.71],[1804,3.47],[1854,4.19],[1896,3.71],[1937,4.43],[1979,4.67],[2021,6.59],[2062,7.56],[2104,5.87],[2146,4.67],[2187,5.15],[2229,5.63],[2271,5.99],[2312,6.35],[2346,6.59],[2375,5.03]];
var p11_6June = [[12,4.19],[54,4.43],[96,3.22],[146,2.74],[187,2.26],[229,3.83],[271,4.43],[312,3.35],[354,2.98],[404,2.26],[446,1.9],[487,2.26],[542,1.9],[596,1.54],[646,1.3],[696,0.82],[750,1.3],[804,1.06],[854,0.58],[904,0.82],[958,1.3],[1012,1.54],[1062,1.78],[1112,1.54],[1167,1.78],[1221,1.54],[1271,1.9],[1321,1.54],[1375,1.9],[1429,1.3],[1479,1.54],[1529,1.9],[1583,1.66],[1637,2.02],[1687,2.26],[1729,2.98],[1762,4.91],[1783,7.56],[1812,7.44],[1846,7.08],[1875,6.47],[1904,5.39],[1937,4.67],[1971,3.71],[2000,3.22],[2029,2.74],[2062,2.26],[2096,1.78],[2137,1.54],[2179,1.42],[2229,1.78],[2271,1.54],[2312,1.3],[2354,1.42]];
var p11_7June = [[12,0.7],[54,0.34],[96,0.1],[137,0.58],[179,1.06],[221,0.82],[262,0.46],[304,0.22],[346,1.06],[387,1.78],[429,2.02],[471,2.26],[521,2.02],[554,2.5],[596,2.26],[637,2.62],[679,2.38],[721,2.74],[762,2.98],[804,2.5],[846,3.1],[887,3.71],[929,3.22],[979,2.74],[1029,2.5],[1083,2.74],[1137,2.98],[1187,2.74],[1237,3.1],[1292,2.86],[1346,3.1],[1396,2.86],[1446,3.1],[1500,2.86],[1554,3.1],[1604,2.86],[1654,3.1],[1708,2.86],[1762,2.74],[1812,2.5],[1854,2.74],[1896,2.5],[1937,2.14],[1979,1.78],[2021,1.54],[2062,1.3],[2104,1.06],[2146,0.94],[2187,0.82],[2229,0.94],[2271,1.06],[2312,0.82],[2354,1.06]];
var p11_8June = [[42,0.82],[83,1.54],[125,1.3],[179,2.38],[221,2.26],[262,2.62],[304,2.38],[346,2.5],[387,2.14],[429,1.78],[471,2.02],[521,1.78],[554,1.3],[596,1.06],[637,1.3],[679,0.82],[721,1.06],[762,0.58],[804,0.82],[846,1.3],[887,1.78],[929,2.14],[979,2.5],[1029,2.62],[1083,2.86],[1137,2.74],[1187,3.1],[1237,2.86],[1292,3.47],[1346,3.22],[1396,2.98],[1446,3.22],[1500,2.86],[1554,3.1],[1604,2.74],[1654,2.5],[1708,2.86],[1762,2.5],[1812,2.26],[1854,2.38],[1896,2.14],[1937,1.9],[1979,1.66],[2021,1.54],[2062,1.3],[2104,1.18],[2146,0.94],[2187,1.06],[2229,0.82],[2271,0.94],[2312,0.82],[2354,1.06]];
var p11_9June = [[29,1.06],[71,0.82],[112,0.7],[167,1.06],[208,0.82],[262,1.06],[312,0.82],[362,0.7],[417,0.34],[471,0.58],[521,0.46],[571,0.82],[612,0.22],[654,0.58],[696,0.82],[737,1.06],[792,1.3],[833,1.54],[875,2.02],[917,1.78],[958,2.5],[1000,2.26],[1042,2.74],[1083,2.38],[1125,2.74],[1167,2.5],[1208,2.86],[1250,2.38],[1292,2.98],[1333,2.62],[1375,3.22],[1417,2.86],[1458,3.47],[1500,3.83],[1542,4.07],[1583,4.43],[1625,4.19],[1667,4.67],[1708,4.43],[1750,4.07],[1792,4.19],[1833,3.83],[1875,3.47],[1917,3.1],[1958,2.62],[2000,2.26],[2042,2.02],[2083,2.5],[2125,2.74],[2154,4.19],[2179,6.35],[2208,5.63],[2237,4.43],[2271,3.47],[2304,2.38],[2333,2.26]];
// 3-16Jun2013-B
var p12_10June = [[28,1.3],[68,1.06],[109,1.3],[149,0.94],[189,0.82],[229,0.94],[269,1.06],[310,0.82],[350,0.94],[390,0.7],[430,0.58],[470,0.46],[511,0.46],[551,0.34],[591,0.22],[631,0.34],[671,0.46],[712,0.58],[752,0.82],[792,1.06],[832,1.42],[872,1.78],[913,2.02],[953,2.26],[993,2.5],[1033,2.74],[1073,2.98],[1114,3.1],[1154,2.86],[1194,2.74],[1234,2.98],[1274,3.1],[1315,3.22],[1355,3.1],[1395,3.35],[1435,3.71],[1475,3.95],[1516,4.19],[1556,4.31],[1596,4.19],[1636,4.07],[1676,3.83],[1716,3.47],[1757,3.1],[1797,2.74],[1837,2.38],[1877,2.02],[1918,1.78],[1958,1.54],[1998,1.3],[2038,1.18],[2078,1.06],[2118,1.18],[2159,1.54],[2199,1.78],[2239,2.26],[2267,6.35],[2295,2.26],[2336,1.54],[2368,1.3]];
var p12_11June = [[36,2.98],[84,2.74],[137,2.5],[189,2.62],[237,2.38],[285,2.74],[338,2.5],[390,2.62],[438,2.5],[486,2.74],[539,2.38],[591,2.14],[639,2.02],[687,1.9],[740,1.78],[792,2.02],[840,2.26],[888,2.38],[941,2.62],[993,2.74],[1041,2.86],[1089,2.98],[1142,3.1],[1194,3.22],[1242,3.35],[1282,2.14],[1323,1.9],[1371,1.78],[1411,1.9],[1443,4.43],[1483,3.71],[1524,2.86],[1564,2.62],[1612,2.86],[1652,2.38],[1704,2.5],[1745,2.38],[1785,3.47],[1825,3.1],[1865,2.74],[1906,1.78],[1946,1.54],[1986,1.54],[2026,1.66],[2066,2.38],[2106,3.35],[2147,3.59],[2187,4.31],[2215,5.39],[2247,4.19],[2287,3.95],[2320,3.22],[2360,2.02]];
var p12_12June = [[36,2.98],[76,2.74],[125,2.86],[165,3.1],[205,3.35],[245,3.47],[285,4.19],[326,4.31],[366,3.71],[406,3.47],[446,3.22],[486,3.1],[527,2.86],[567,2.74],[607,2.98],[647,3.22],[687,3.47],[728,3.59],[768,3.71],[808,4.43],[840,4.91],[872,3.83],[913,4.19],[953,4.43],[993,4.55],[1033,4.91],[1073,5.39],[1114,5.87],[1142,6.47],[1170,7.08],[1202,7.68],[1234,7.8],[1262,7.8],[1302,7.44],[1343,7.2],[1383,6.96],[1423,7.2],[1463,7.32],[1503,7.08],[1544,7.44],[1596,8.28],[1636,7.56],[1676,7.32],[1716,7.56],[1757,7.2],[1797,6.84],[1837,6.59],[1877,6.23],[1918,5.87],[1958,5.39],[1998,4.91],[2038,4.43],[2078,3.71],[2118,3.22],[2159,2.74],[2199,2.26],[2239,2.02],[2279,1.9],[2320,1.66],[2360,1.3]];
var p12_13June = [[36,1.78],[76,1.54],[117,2.02],[157,1.3],[197,1.78],[237,1.18],[277,1.66],[318,1.3],[358,1.06],[398,0.7],[438,0.34],[478,0.82],[519,1.9],[559,2.14],[599,2.5],[639,2.74],[679,2.38],[720,2.74],[760,2.5],[800,2.26],[840,2.74],[880,3.22],[921,3.47],[961,3.71],[1001,4.19],[1041,4.43],[1081,4.19],[1122,3.71],[1162,3.47],[1202,3.95],[1242,3.22],[1282,3.71],[1323,3.22],[1363,2.86],[1403,3.22],[1443,3.1],[1483,3.47],[1524,3.1],[1564,2.86],[1596,5.39],[1636,4.91],[1676,4.19],[1716,3.95],[1757,4.19],[1797,4.55],[1837,4.43],[1877,4.67],[1918,4.19],[1958,3.71],[1998,3.47],[2038,3.95],[2078,4.19],[2118,5.87],[2159,5.39],[2199,4.91],[2239,4.43],[2279,3.71],[2320,2.74],[2360,1.78]];
var p12_14June = [[36,2.02],[68,3.71],[109,3.22],[149,2.74],[189,2.38],[229,2.74],[269,3.1],[310,2.98],[350,3.22],[390,3.47],[430,3.1],[470,2.86],[511,3.1],[551,2.98],[591,3.35],[631,3.47],[671,3.22],[712,2.74],[752,2.5],[792,2.02],[832,2.38],[872,2.74],[913,3.22],[953,3.71],[993,4.19],[1033,4.67],[1073,4.91],[1114,4.55],[1154,4.19],[1194,3.71],[1234,3.47],[1274,3.95],[1315,3.71],[1355,3.83],[1395,3.95],[1435,4.07],[1475,3.95],[1516,4.07],[1556,3.95],[1596,4.19],[1636,4.43],[1676,4.79],[1716,4.91],[1757,4.67],[1797,4.31],[1837,3.95],[1877,3.71],[1918,3.35],[1958,3.1],[1998,2.74],[2038,2.38],[2078,2.14],[2118,1.78],[2159,1.3],[2199,0.46],[2239,0.82],[2279,0.7],[2320,1.06],[2360,1.3]];

// ---- marker styles ----
var downTriangle = {
  draw: function (ctx, size) {
    var s = Math.sqrt(size / 0.433) / 2;
    ctx.moveTo(-s, -s * 0.58);
    ctx.lineTo(s, -s * 0.58);
    ctx.lineTo(0, s * 1.15);
    ctx.closePath();
  }
};
var thinDiamond = {
  draw: function (ctx, size) {
    var h = Math.sqrt(size) * 0.8, w = h * 0.45;
    ctx.moveTo(0, -h); ctx.lineTo(w, 0); ctx.lineTo(0, h); ctx.lineTo(-w, 0);
    ctx.closePath();
  }
};
var shapes = {
  circle: d3.symbolCircle, square: d3.symbolSquare, diamond: d3.symbolDiamond,
  up: d3.symbolTriangle, down: downTriangle, star: d3.symbolStar, thin: thinDiamond
};
var styles = {
  redCircle:     {shape: 'circle',  size: 18, fill: '#ff0000', stroke: '#d00000', line: '#ff7a7a'},
  blueSquare:    {shape: 'square',  size: 20, fill: '#6b9be6', stroke: '#3f6cc0', line: '#a9c5f0'},
  greenDiamond:  {shape: 'diamond', size: 24, fill: '#33cc33', stroke: '#22992a', line: '#80dd80'},
  orangeUp:      {shape: 'up',      size: 24, fill: '#ff7f40', stroke: '#e86020', line: '#ffae88'},
  pinkDown:      {shape: 'down',    size: 26, fill: '#ff40a0', stroke: '#e02088', line: '#ff9fd0'},
  purpleStar:    {shape: 'star',    size: 24, fill: '#9933ff', stroke: '#7a18e0', line: '#c8a0ff'},
  greenSquare:   {shape: 'square',  size: 40, fill: '#33cc33', stroke: '#28b028', line: '#88e088'},
  purpleDiamond: {shape: 'diamond', size: 36, fill: '#9933cc', stroke: '#7a20b0', line: '#c89ae0'},
  magentaSquare: {shape: 'square',  size: 20, fill: '#cc00cc', stroke: '#990099', line: '#e488e4'},
  lightBlueDia:  {shape: 'diamond', size: 24, fill: '#5c9cff', stroke: '#3c7ce8', line: '#a4c8ff'},
  navyOpen:      {shape: 'circle',  size: 30, fill: 'none',    stroke: '#1f3c9c', line: '#8090d0'},
  cyanCircle:    {shape: 'circle',  size: 42, fill: '#8cffff', stroke: '#70eeee', line: '#b8ffff'},
  cyanDiamond:   {shape: 'diamond', size: 24, fill: '#b8ffff', stroke: '#44c4cc', line: '#b8f0f0'},
  greenUp:       {shape: 'up',      size: 24, fill: '#33bb33', stroke: '#229022', line: '#88dd88'},
  orangeDown:    {shape: 'down',    size: 28, fill: '#ff7040', stroke: '#d05020', line: '#ffa888'},
  pinkStar:      {shape: 'star',    size: 22, fill: '#f4a8f0', stroke: '#c878c8', line: '#f4c8f4'},
  purpleThin:    {shape: 'thin',    size: 32, fill: '#8a2be2', stroke: '#6a10c0', line: '#c898f0'},
  yellowStar:    {shape: 'star',    size: 24, fill: '#ffff00', stroke: '#a0a000', line: '#ffff88'},
  cyanSquare:    {shape: 'square',  size: 42, fill: '#aaffff', stroke: '#44a8a8', line: '#c4f8f8'},
  orangeDiamond: {shape: 'diamond', size: 26, fill: '#ff7f40', stroke: '#e06020', line: '#ffb090'},
  purpleDown:    {shape: 'down',    size: 30, fill: '#8000ee', stroke: '#5a00b0', line: '#c080ff'},
  cyanFlat:      {shape: 'square',  size: 44, fill: '#8cffff', stroke: 'none',    line: '#b8ffff'},
  pinkDiamond:   {shape: 'diamond', size: 26, fill: '#ff40aa', stroke: '#e0208c', line: '#ffa0d4'},
  navyThin:      {shape: 'thin',    size: 32, fill: '#000080', stroke: '#000060', line: '#6868c0'},
  pinkUp:        {shape: 'up',      size: 28, fill: '#ff4da6', stroke: '#e02a88', line: '#ffa4d2'},
  navyDown:      {shape: 'down',    size: 30, fill: '#000080', stroke: '#000060', line: '#6868c0'}
};

// ---- panels: grid position, title and legend layout ----
var panels = [
  {row: 0, col: 0, title: '31Mar-11Apr2012', tx: 93, ty: 41.7, series: [
    {name: '31March', data: p1_31March, style: 'redCircle', lx: 94, ly: 62.7},
    {name: '5April', data: p1_5April, style: 'blueSquare', lx: 94, ly: 81.7},
    {name: '6April', data: p1_6April, style: 'greenDiamond', lx: 94, ly: 101.7},
    {name: '8April', data: p1_8April, style: 'orangeUp', lx: 94, ly: 131.7, textDy: -9},
    {name: '10April', data: p1_10April, style: 'pinkDown', lx: 94, ly: 160.7},
    {name: '11April', data: p1_11April, style: 'purpleStar', lx: 94, ly: 180}]},
  {row: 0, col: 1, title: '20-24Apr2012', tx: 287, ty: 41.7, series: [
    {name: '20April', data: p2_20April, style: 'redCircle', lx: 288, ly: 61.7},
    {name: '22April', data: p2_22April, style: 'greenSquare', lx: 288, ly: 81.7},
    {name: '23April', data: p2_23April, style: 'purpleDiamond', lx: 288, ly: 101.7}]},
  {row: 1, col: 0, title: '16-18May2012', tx: 96, ty: 240.7, series: [
    {name: '16May', data: p3_16May, style: 'redCircle', lx: 96, ly: 261},
    {name: '18May', data: p3_18May, style: 'greenSquare', lx: 96, ly: 280.7}]},
  {row: 1, col: 1, title: '17-19Apr2013', tx: 292, ty: 240.7, series: [
    {name: '17April', data: p4_17April, style: 'redCircle', lx: 291, ly: 261},
    {name: '18April', data: p4_18April, style: 'blueSquare', lx: 291, ly: 281}]},
  {row: 2, col: 0, title: '26-30Apr2013', tx: 95, ty: 437, series: [
    {name: '27April', data: p5_27April, style: 'redCircle', lx: 94, ly: 459},
    {name: '28April', data: p5_28April, style: 'magentaSquare', lx: 94, ly: 479},
    {name: '29April', data: p5_29April, style: 'lightBlueDia', lx: 94, ly: 498.7},
    {name: '30April', data: p5_30April, style: 'navyOpen', lx: 94, ly: 518.7}]},
  {row: 2, col: 1, title: '1-5May2013', tx: 289, ty: 437, series: [
    {name: '1May', data: p6_1May, style: 'redCircle', lx: 291, ly: 458},
    {name: '2May', data: p6_2May, style: 'blueSquare', lx: 291, ly: 478},
    {name: '3May', data: p6_3May, style: 'greenDiamond', lx: 291, ly: 497.7},
    {name: '4May', data: p6_4May, style: 'cyanCircle', lx: 291, ly: 517}]},
  {row: 3, col: 0, title: '6-12May2013', tx: 93, ty: 628.3, series: [
    {name: '6May', data: p7_6May, style: 'redCircle', lx: 94, ly: 649.3},
    {name: '7May', data: p7_7May, style: 'blueSquare', lx: 94, ly: 669},
    {name: '11May', data: p7_11May, style: 'greenDiamond', lx: 94, ly: 688}]},
  {row: 3, col: 1, title: '13-20May2013', tx: 292, ty: 628, series: [
    {name: '13May', data: p8_13May, style: 'redCircle', lx: 294, ly: 649},
    {name: '14May', data: p8_14May, style: 'blueSquare', lx: 294, ly: 668},
    {name: '15May', data: p8_15May, style: 'cyanDiamond', lx: 294, ly: 688},
    {name: '16May', data: p8_16May, style: 'greenUp', lx: 294, ly: 707},
    {name: '17May', data: p8_17May, style: 'orangeDown', lx: 389, ly: 649},
    {name: '18May', data: p8_18May, style: 'pinkStar', lx: 389, ly: 668},
    {name: '20May', data: p8_20May, style: 'purpleThin', lx: 389, ly: 688}]},
  {row: 4, col: 0, title: '20-26May2013', tx: 91, ty: 815, series: [
    {name: '20May', data: p9_20May, style: 'redCircle', lx: 92, ly: 831.7},
    {name: '21May', data: p9_21May, style: 'blueSquare', lx: 92, ly: 850.7},
    {name: '22May', data: p9_22May, style: 'cyanDiamond', lx: 92, ly: 870},
    {name: '23May', data: p9_23May, style: 'greenUp', lx: 92, ly: 890},
    {name: '24May', data: p9_24May, style: 'orangeDown', lx: 179, ly: 831.7},
    {name: '25May', data: p9_25May, style: 'yellowStar', lx: 179, ly: 850.7},
    {name: '26May', data: p9_26May, style: 'purpleThin', lx: 179, ly: 870}]},
  {row: 4, col: 1, title: '28May-2Jun2013', tx: 287, ty: 815, series: [
    {name: '28May', data: p10_28May, style: 'redCircle', lx: 288, ly: 836},
    {name: '29May', data: p10_29May, style: 'cyanSquare', lx: 288, ly: 855.7},
    {name: '30May', data: p10_30May, style: 'greenUp', lx: 288, ly: 875},
    {name: '31May', data: p10_31May, style: 'orangeDiamond', lx: 373, ly: 836},
    {name: '1June', data: p10_1June, style: 'purpleDown', lx: 373, ly: 855.7},
    {name: '2June', data: p10_2June, style: 'yellowStar', lx: 373, ly: 875}]},
  {row: 5, col: 0, title: '3-16Jun2013-A', tx: 95, ty: 1013.5, span: 28, tgap: 32, fs: 15, ms: 0.7, series: [
    {name: '3June', data: p11_3June, style: 'redCircle', lx: 90, ly: 1032.5},
    {name: '4June', data: p11_4June, style: 'cyanFlat', lx: 90, ly: 1051.2},
    {name: '5June', data: p11_5June, style: 'greenUp', lx: 90, ly: 1070.2},
    {name: '6June', data: p11_6June, style: 'orangeDown', lx: 90, ly: 1089.3},
    {name: '7June', data: p11_7June, style: 'pinkDiamond', lx: 167, ly: 1032.5},
    {name: '8June', data: p11_8June, style: 'purpleStar', lx: 167, ly: 1051.2},
    {name: '9June', data: p11_9June, style: 'navyThin', lx: 167, ly: 1070.2}]},
  {row: 5, col: 1, title: '3-16Jun2013-B', tx: 288, ty: 1015, series: [
    {name: '10June', data: p12_10June, style: 'redCircle', lx: 288, ly: 1033.5},
    {name: '11June', data: p12_11June, style: 'greenSquare', lx: 288, ly: 1052.3},
    {name: '12June', data: p12_12June, style: 'orangeDiamond', lx: 288, ly: 1071.7},
    {name: '13June', data: p12_13June, style: 'pinkUp', lx: 381, ly: 1033.5},
    {name: '14June', data: p12_14June, style: 'navyDown', lx: 381, ly: 1052.3}]}
];

var rowTops = [22, 218, 413, 605, 800, 995, 1188];
var colEdges = [85, 277, 476];

var svg = d3.select('#chart');

function symbolPath(st, k) {
  return d3.symbol().type(shapes[st.shape]).size(st.size * (k || 1))();
}

function drawMarkers(g, pts, st, k) {
  g.selectAll(null)
    .data(pts)
    .join('path')
    .attr('transform', d => 'translate(' + d[0] + ',' + d[1] + ')')
    .attr('d', symbolPath(st, k))
    .attr('fill', st.fill)
    .attr('stroke', st.stroke)
    .attr('stroke-width', st.fill === 'none' ? 1 : 0.6);
}

panels.forEach(function (p, i) {
  var x0 = colEdges[p.col], x1 = colEdges[p.col + 1];
  var y0 = rowTops[p.row], y1 = rowTops[p.row + 1];
  var x = d3.scaleLinear().domain([0, 2400]).range([x0, x1]);
  var y = d3.scaleLinear().domain([0, 14]).range([y1, y0]);

  svg.append('clipPath').attr('id', 'clip' + i)
    .append('rect').attr('x', x0).attr('y', y0).attr('width', x1 - x0).attr('height', y1 - y0);

  var plot = svg.append('g').attr('clip-path', 'url(#clip' + i + ')');
  var line = d3.line().x(d => x(d[0])).y(d => y(d[1]));

  p.series.forEach(function (s) {
    var st = styles[s.style];
    if (!s.data.length) return;
    plot.append('path').datum(s.data)
      .attr('d', line)
      .attr('fill', 'none')
      .attr('stroke', st.line)
      .attr('stroke-width', 0.8);
    drawMarkers(plot, s.data.map(d => [x(d[0]), y(d[1])]), st);
  });

  // legend
  var span = p.span || 30, tgap = p.tgap || 34, fs = p.fs || 16;
  var leg = svg.append('g');
  p.series.forEach(function (s) {
    var st = styles[s.style];
    leg.append('line')
      .attr('x1', s.lx).attr('x2', s.lx + span)
      .attr('y1', s.ly).attr('y2', s.ly)
      .attr('stroke', st.line).attr('stroke-width', 1);
    drawMarkers(leg, [[s.lx + 1, s.ly], [s.lx + span / 2, s.ly], [s.lx + span - 1, s.ly]], st, p.ms);
    leg.append('text')
      .attr('x', s.lx + tgap)
      .attr('y', s.ly + fs * 0.357 + (s.textDy || 0))
      .style('font-size', fs + 'px')
      .text(s.name);
  });

  svg.append('text')
    .attr('x', p.tx).attr('y', p.ty + 6.4)
    .style('font-size', '18px')
    .text(p.title);

  svg.append('rect')
    .attr('x', x0).attr('y', y0)
    .attr('width', x1 - x0).attr('height', y1 - y0)
    .attr('fill', 'none').attr('stroke', '#000').attr('stroke-width', 2.6);

  var yLab = p.col === 0 ? yLabelsByRow[p.row] : [];
  var yAxis = svg.append('g')
    .attr('transform', 'translate(' + x0 + ',0)')
    .call(d3.axisLeft(y).tickValues(yTicks).tickSize(8)
      .tickFormat(v => yLab.indexOf(v) >= 0 ? v : ''));
  yAxis.select('.domain').remove();
  yAxis.selectAll('line').attr('stroke-width', 2);
  yAxis.selectAll('text')
    .attr('x', -10 / 1.3)
    .attr('transform', 'scale(1.3,1)')
    .style('font-size', '24px')
    .style('font-family', '"Liberation Sans", Arial, sans-serif');

  var xLab = p.row === 5 ? (p.col === 0 ? xLabelsLeft : xLabelsRight) : [];
  var xAxis = svg.append('g')
    .attr('transform', 'translate(0,' + y1 + ')')
    .call(d3.axisBottom(x).tickValues(xTicks).tickSize(8)
      .tickFormat(v => xLab.indexOf(v) >= 0 ? v : ''));
  xAxis.select('.domain').remove();
  xAxis.selectAll('line').attr('stroke-width', 2);
  xAxis.selectAll('text')
    .attr('y', 19)
    .style('font-size', '24px')
    .style('font-family', '"Liberation Sans", Arial, sans-serif');
});

// axis titles
svg.append('line')
  .attr('x1', 14).attr('x2', 14).attr('y1', 11).attr('y2', 637)
  .attr('stroke', '#000').attr('stroke-width', 1);

var yt = svg.append('text')
  .attr('transform', 'translate(31,611) rotate(-90)')
  .attr('text-anchor', 'middle')
  .style('font-size', '25px');
yt.append('tspan').text('Wind speed (m s');
yt.append('tspan').attr('dy', -10).style('font-size', '15px').text('-1');
yt.append('tspan').attr('dy', 10).text(')');

svg.append('text')
  .attr('x', 286).attr('y', 1253)
  .attr('text-anchor', 'middle')
  .attr('textLength', 158)
  .attr('lengthAdjust', 'spacingAndGlyphs')
  .style('font-size', '25px')
  .text('Time (hour)');
</script>
</body>
</html>
